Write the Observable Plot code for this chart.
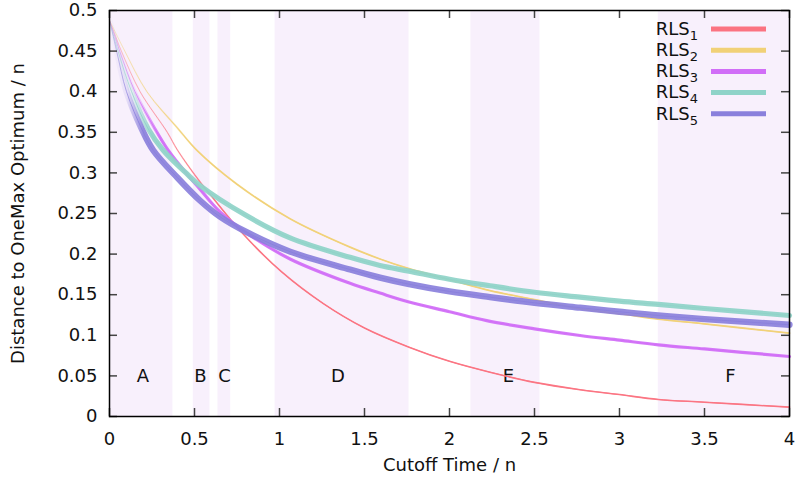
<!DOCTYPE html>
<html><head><meta charset="utf-8">
<script src="https://cdn.jsdelivr.net/npm/d3@7"></script>
<script src="https://cdn.jsdelivr.net/npm/@observablehq/plot@0.6"></script>
<style>body{margin:0;background:#fff} svg{display:block}</style>
</head><body><div id="chart"></div>
<script>
// ---- data ----
const seriesNames = ["1", "2", "3", "4", "5"]; // RLS subscripts
const rls1X = [0, 0.07, 0.18, 0.34, 0.4, 0.532, 0.605, 0.785, 1.013, 1.258, 1.5, 1.762, 2.0, 2.238, 2.5, 2.768, 3.0, 3.228, 3.5, 4.0];
const rls1Y = [0.488, 0.45, 0.40, 0.35, 0.328, 0.289, 0.27, 0.225, 0.178, 0.139, 0.109, 0.0854, 0.068, 0.0546, 0.042, 0.033, 0.027, 0.021, 0.0176, 0.0115];
const rls2X = [0, 0.09, 0.22, 0.405, 0.513, 0.75, 1.062, 1.415, 1.591, 1.762, 2.0, 2.238, 2.5, 2.768, 3.02, 3.228, 3.5, 4.0];
const rls2Y = [0.488, 0.45, 0.40, 0.354, 0.328, 0.286, 0.2435, 0.2085, 0.194, 0.182, 0.1685, 0.155, 0.144, 0.1326, 0.126, 0.12, 0.114, 0.1026];
const rls3X = [0, 0.06, 0.15, 0.268, 0.346, 0.454, 0.532, 0.65, 0.807, 1.062, 1.415, 1.591, 1.762, 2.0, 2.219, 2.5, 2.768, 3.0, 3.228, 3.5, 4.0];
const rls3Y = [0.488, 0.45, 0.40, 0.354, 0.3276, 0.299, 0.28, 0.252, 0.226, 0.194, 0.164, 0.152, 0.141, 0.129, 0.118, 0.108, 0.0998, 0.094, 0.0883, 0.0832, 0.0739];
const rls4X = [0, 0.05, 0.13, 0.228, 0.317, 0.45, 0.532, 0.8, 1.062, 1.415, 1.591, 1.762, 2.0, 2.238, 2.5, 2.768, 3.0, 3.228, 3.5, 4.0];
const rls4Y = [0.488, 0.45, 0.40, 0.354, 0.3276, 0.30, 0.2845, 0.248, 0.22, 0.196, 0.186, 0.179, 0.169, 0.161, 0.153, 0.147, 0.142, 0.138, 0.133, 0.1244];
const rls5X = [0, 0.042, 0.1, 0.19, 0.258, 0.4, 0.532, 0.65, 0.807, 1.062, 1.415, 1.591, 1.762, 2.0, 2.238, 2.5, 2.768, 3.0, 3.228, 3.5, 4.0];
const rls5Y = [0.488, 0.45, 0.40, 0.354, 0.3276, 0.294, 0.266, 0.246, 0.227, 0.203, 0.181, 0.171, 0.163, 0.154, 0.147, 0.14, 0.134, 0.129, 0.1244, 0.12, 0.113];

const regionNames = ["A", "B", "C", "D", "E", "F"];
const regionStart = [0, 0.493, 0.638, 0.974, 2.126, 3.228];
const regionEnd   = [0.373, 0.591, 0.713, 1.762, 2.532, 4.0];
const regionLabelX = [0.196, 0.535, 0.676, 1.344, 2.346, 3.653];
const regionLabelY = 0.05;

const xTicks = [0, 0.5, 1, 1.5, 2, 2.5, 3, 3.5, 4];
const yTicks = [0, 0.05, 0.1, 0.15, 0.2, 0.25, 0.3, 0.35, 0.4, 0.45, 0.5];
const xTitle = "Cutoff Time / n";
const yTitle = "Distance to OneMax Optimum / n";

// ---- styles ----
const colors = ["#fb7381", "#f1d177", "#d16ef7", "#8fd3c8", "#8a80dc"];
const widths = [1.6, 1.8, 3.2, 5.2, 6.3];
const fullAt = [0.65, 0.5, 0.3, 0.25, 0.2];

const xs = [rls1X, rls2X, rls3X, rls4X, rls5X];
const ys = [rls1Y, rls2Y, rls3Y, rls4Y, rls5Y];
const series = xs.map((xa, i) => xa.map((x, j) => ({x, y: ys[i][j], s: i})));
const regions = regionNames.map((name, i) => ({name, x1: regionStart[i], x2: regionEnd[i], lx: regionLabelX[i]}));

const W = 796, H = 483, mL = 109, mR = 7, mT = 10, mB = 67;
const innerW = W - mL - mR, innerH = H - mT - mB;
const font = "DejaVu Sans, sans-serif";
const fmt = d => String(d);

const lineMarks = [];
series.forEach((d, i) => {
  lineMarks.push(Plot.line(d, {x: "x", y: "y", stroke: `url(#gthick${i})`, strokeWidth: widths[i], curve: "catmull-rom", strokeOpacity: 0.92}));
  lineMarks.push(Plot.line(d, {x: "x", y: "y", stroke: `url(#gthin${i})`, strokeWidth: 1, curve: "catmull-rom"}));
});

const svg = Plot.plot({
  width: W, height: H,
  marginLeft: mL, marginRight: mR, marginTop: mT, marginBottom: mB,
  style: {fontFamily: font, fontSize: "18px", color: "#111", background: "#fff", overflow: "visible"},
  x: {domain: [0, 4]},
  y: {domain: [0, 0.5]},
  marks: [
    Plot.rect(regions, {x1: "x1", x2: "x2", fill: "#f8f0fc"}),
    Plot.text(regions, {x: "lx", y: () => regionLabelY, text: "name", fontSize: 18, fill: "#111"}),
    ...lineMarks,
    Plot.tickX(xTicks, {x: d => d, insetTop: innerH - 8, stroke: "#444", strokeWidth: 1.5}),
    Plot.tickX(xTicks, {x: d => d, insetBottom: innerH - 8, stroke: "#444", strokeWidth: 1.5}),
    Plot.tickY(yTicks, {y: d => d, insetRight: innerW - 8, stroke: "#444", strokeWidth: 1.5}),
    Plot.tickY(yTicks, {y: d => d, insetLeft: innerW - 8, stroke: "#444", strokeWidth: 1.5}),
    Plot.axisX(xTicks, {tickSize: 0, tickPadding: 16, fontSize: 18, label: null, tickFormat: fmt}),
    Plot.axisY(yTicks, {tickSize: 0, tickPadding: 12, fontSize: 18, label: null, tickFormat: fmt}),
    Plot.frame({stroke: "#000", strokeWidth: 1.5}),
    Plot.text([xTitle], {frameAnchor: "bottom", dy: 54, fontSize: 18, fill: "#111"}),
    Plot.text([yTitle], {frameAnchor: "left", dx: -91, rotate: -90, textAnchor: "middle", fontSize: 18, fill: "#111"})
  ]
});

// gradients for faint starts
const defs = d3.select(svg).insert("defs", ":first-child");
colors.forEach((c, i) => {
  const f = fullAt[i] / 4;
  const g1 = defs.append("linearGradient").attr("id", `gthick${i}`).attr("x1", 0).attr("x2", 1).attr("y1", 0).attr("y2", 0);
  g1.append("stop").attr("offset", 0).attr("stop-color", c).attr("stop-opacity", 0);
  g1.append("stop").attr("offset", f * 0.5).attr("stop-color", c).attr("stop-opacity", 0.15);
  g1.append("stop").attr("offset", f).attr("stop-color", c).attr("stop-opacity", 1);
  g1.append("stop").attr("offset", 1).attr("stop-color", c).attr("stop-opacity", 1);
  const g2 = defs.append("linearGradient").attr("id", `gthin${i}`).attr("x1", 0).attr("x2", 1).attr("y1", 0).attr("y2", 0);
  g2.append("stop").attr("offset", 0).attr("stop-color", c).attr("stop-opacity", 0.35);
  g2.append("stop").attr("offset", f).attr("stop-color", c).attr("stop-opacity", 1);
  g2.append("stop").attr("offset", 1).attr("stop-color", c).attr("stop-opacity", 1);
});

// legend (gnuplot style, inside top-right)
const leg = d3.select(svg).append("g").attr("font-family", font).attr("fill", "#111");
seriesNames.forEach((s, i) => {
  const cy = 29 + i * 21.2;
  const t = leg.append("text").attr("x", 698).attr("y", cy).attr("dy", "0.32em").attr("text-anchor", "end").attr("font-size", 18);
  t.append("tspan").text("RLS");
  t.append("tspan").attr("font-size", 13).attr("dy", 5).text(s);
  leg.append("line").attr("x1", 711).attr("x2", 766).attr("y1", cy).attr("y2", cy)
    .attr("stroke", colors[i]).attr("stroke-width", 5);
});

document.getElementById("chart").appendChild(svg);
</script>
</body></html>
